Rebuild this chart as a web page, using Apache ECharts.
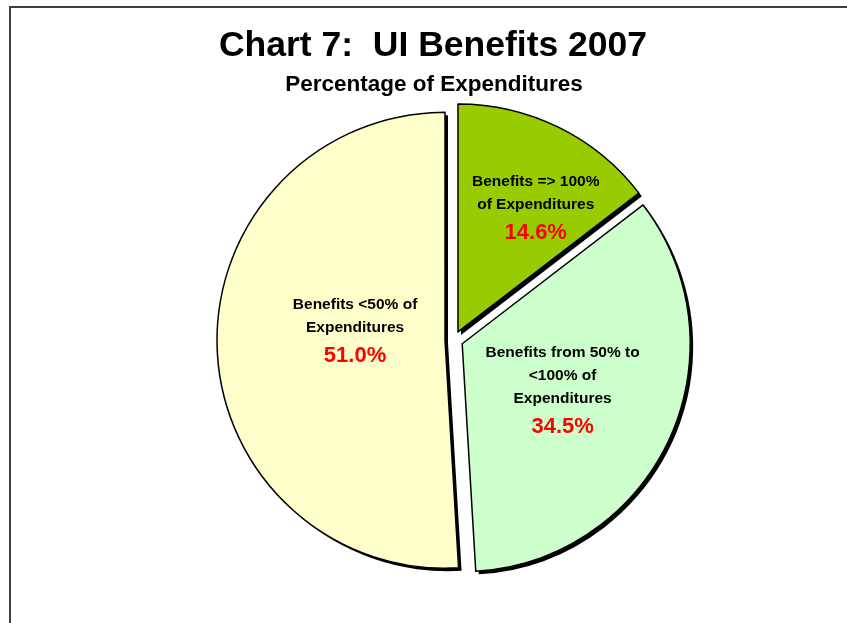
<!DOCTYPE html>
<html>
<head>
<meta charset="utf-8">
<title>Chart 7: UI Benefits 2007</title>
<script src="https://cdn.jsdelivr.net/npm/echarts@6/dist/echarts.min.js"></script>
<style>
html, body { margin: 0; padding: 0; background: #fff; }
#chart { width: 847px; height: 623px; }
</style>
</head>
<body>
<div id="chart"></div>
<script>
const categories = ['Benefits => 100% of Expenditures', 'Benefits from 50% to <100% of Expenditures', 'Benefits <50% of Expenditures']
const labelLines = [
    ['Benefits => 100%', 'of Expenditures'],
    ['Benefits from 50% to', '<100% of', 'Expenditures'],
    ['Benefits <50% of', 'Expenditures']
]
const shares = [14.6, 34.5, 51.0]

const sliceColors = ['#99CC00', '#CCFFCC', '#FFFFCC']
// nudge each label away from the default inside spot
const labelShift = [[26, -17], [-6, 0], [27, -11]]
const font = '"Liberation Sans", Arial, sans-serif'
const pieCenter = [454, 340]
const shadowShift = 3

const myChart = echarts.init(document.getElementById('chart'))

const pieData = shares.map((v, i) => {
    return {
        name: categories[i],
        value: v,
        selected: true,
        itemStyle: { color: sliceColors[i] }
    }
})
// same slices, drawn black underneath and shifted, to act as the drop shadow
const shadowData = shares.map((v, i) => {
    return { name: categories[i], value: v, selected: true }
})

myChart.setOption({
    backgroundColor: '#fff',
    animation: false,
    title: [{
        text: 'Chart 7:  UI Benefits 2007',
        left: 428,
        top: 23,
        textAlign: 'center',
        textStyle: { fontFamily: font, fontSize: 35.5, fontWeight: 'bold', color: '#000' }
    }, {
        text: 'Percentage of Expenditures',
        left: 429,
        top: 68,
        textAlign: 'center',
        textStyle: { fontFamily: font, fontSize: 22.5, fontWeight: 'bold', color: '#000' }
    }],
    graphic: [{
        type: 'rect',
        shape: { x: 10, y: 7, width: 900, height: 700 },
        style: { fill: 'none', stroke: '#404040', lineWidth: 2 },
        silent: true
    }],
    series: [{
        type: 'pie',
        silent: true,
        z: 1,
        center: [pieCenter[0] + shadowShift, pieCenter[1] + shadowShift],
        radius: 228,
        startAngle: 90,
        clockwise: true,
        selectedMode: 'multiple',
        selectedOffset: 9,
        emphasis: { disabled: true },
        itemStyle: { color: '#000', borderWidth: 0 },
        label: { show: false },
        labelLine: { show: false },
        data: shadowData
    }, {
        type: 'pie',
        z: 2,
        center: pieCenter,
        radius: 228,
        startAngle: 90,
        clockwise: true,
        selectedMode: 'multiple',
        selectedOffset: 9,
        emphasis: { disabled: true },
        itemStyle: {
            borderColor: '#000',
            borderWidth: 1.5
        },
        label: {
            show: true,
            position: 'inside',
            formatter: function (p) {
                const lines = labelLines[p.dataIndex].map(l => '{t|' + l + '}')
                return lines.join('\n') + '\n{v|' + p.value.toFixed(1) + '%}'
            },
            rich: {
                t: { fontFamily: font, fontSize: 15.5, fontWeight: 'bold', color: '#000', lineHeight: 23 },
                v: { fontFamily: font, fontSize: 22, fontWeight: 'bold', color: '#FF0000', lineHeight: 33 }
            }
        },
        labelLine: { show: false },
        labelLayout: function (params) {
            const s = labelShift[params.dataIndex]
            return { dx: s[0], dy: s[1] }
        },
        data: pieData
    }]
})
</script>
</body>
</html>
